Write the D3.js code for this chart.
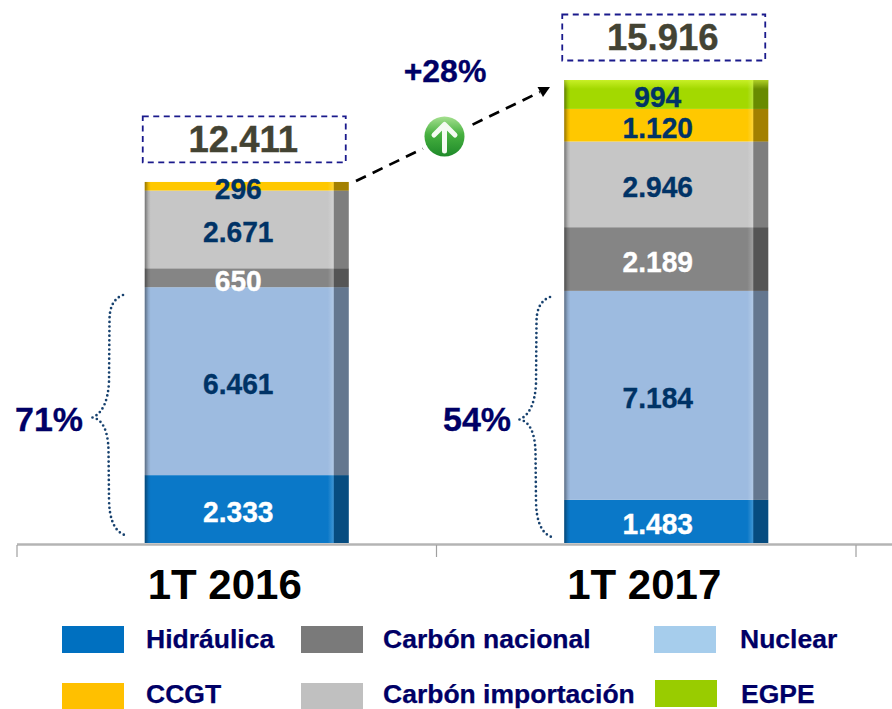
<!DOCTYPE html>
<html><head><meta charset="utf-8">
<script src="https://cdn.jsdelivr.net/npm/d3@7"></script>
<style>html,body{margin:0;padding:0;background:#fff}svg{display:block}text{font-family:"Liberation Sans",Arial,sans-serif;font-weight:bold}</style>
</head><body><svg id="c" width="892" height="709"></svg>
<script>
const categories = ["1T 2016", "1T 2017"];
const hidraulica = [2333, 1483];
const nuclear = [6461, 7184];
const carbonNacional = [650, 2189];
const carbonImportacion = [2671, 2946];
const ccgt = [296, 1120];
const egpe = [0, 994];
const totals = [12411, 15916];
const shares = ["71%", "54%"];
const growth = "+28%";
const seriesNames = ["Hidráulica", "Nuclear", "Carbón nacional", "Carbón importación", "CCGT", "EGPE"];
const seriesValues = [hidraulica, nuclear, carbonNacional, carbonImportacion, ccgt, egpe];
const barColors = ["#0a78c8", "#9dbbe0", "#858585", "#c6c6c6", "#ffc800", "#a3d900"];
const legendColors = ["#0070c0", "#a6cdec", "#7a7a7a", "#c0c0c0", "#ffc000", "#99cc00"];
const labelColors = ["#fff", "#003366", "#fff", "#003366", "#003366", "#003366"];
const legendPlaces = [
  {name:"Hidráulica", bx:62, by:626, tx:146, ty:648},
  {name:"Carbón nacional", bx:301, by:626, tx:383, ty:648},
  {name:"Nuclear", bx:654, by:626, tx:740, ty:648},
  {name:"CCGT", bx:62, by:683, tx:146, ty:703},
  {name:"Carbón importación", bx:301, by:683, tx:383, ty:703},
  {name:"EGPE", bx:655, by:680, tx:741, ty:703}
];

const svg = d3.select("#c");
const fmt = d3.formatLocale({thousands:".", grouping:[3], decimal:",", currency:["",""]}).format(",");
const y = d3.scaleLinear().domain([0, 15916]).range([543, 80]);
const axisX = d3.scaleBand().domain(categories).range([17, 856]);
const barW = 204, sideW = 15, barShift = 20;
const barX = c => axisX(c) + (axisX.step() - barW) / 2 + barShift;

// narrows glyphs so the taller type keeps the reference's width
function squeeze(sel, k) {
  sel.each(function(){
    this.setAttribute("textLength", this.getComputedTextLength() * k);
    this.setAttribute("lengthAdjust", "spacingAndGlyphs");
  });
}

const defs = svg.append("defs");
function grad(id, stops, vertical) {
  const g = defs.append("linearGradient").attr("id", id).attr("x1",0).attr("y1",0)
    .attr("x2", vertical?0:1).attr("y2", vertical?1:0);
  stops.forEach(s => g.append("stop").attr("offset", s[0]).attr("stop-color", s[1]).attr("stop-opacity", s[2]));
}
grad("leftShade", [[0,"#000",.42],[.6,"#000",.1],[1,"#000",0]]);
grad("hiLite", [[0,"#fff",0],[1,"#fff",.22]]);
grad("topLite", [[0,"#e0ff40",.6],[1,"#e0ff40",0]], true);
const rg = defs.append("linearGradient").attr("id","ball").attr("x1",0).attr("y1",0).attr("x2",0).attr("y2",1);
rg.append("stop").attr("offset",0).attr("stop-color","#a5e08f");
rg.append("stop").attr("offset",.45).attr("stop-color","#46b03f");
rg.append("stop").attr("offset",1).attr("stop-color","#1f8a2a");

// axis
svg.append("line").attr("x1",17).attr("x2",892).attr("y1",544.5).attr("y2",544.5).attr("stroke","#b4b4b4").attr("stroke-width",2.5);
const tickXs = [axisX(categories[0]), axisX(categories[1]), axisX(categories[1]) + axisX.step()];
svg.selectAll(".tk").data(tickXs).join("line").attr("x1",d=>d).attr("x2",d=>d)
  .attr("y1",545).attr("y2",557).attr("stroke","#a0a0a0").attr("stroke-width",1.2);
svg.selectAll(".cat").data(categories).join("text").attr("x",c=>axisX(c)+axisX.step()/2-2)
  .attr("y",599).attr("text-anchor","middle").attr("font-size",42).attr("fill","#000").text(c=>c);

// bars
const table = categories.map((c,i)=>{const o={cat:c}; seriesNames.forEach((n,k)=>o[n]=seriesValues[k][i]); return o;});
const stacked = d3.stack().keys(seriesNames)(table);
const flat = [];
stacked.forEach((layer,k)=>layer.forEach((d,i)=>{ if(d[1]>d[0]) flat.push({k,i,cat:d.data.cat,y0:d[0],y1:d[1],v:d[1]-d[0]}); }));
const gBars = svg.append("g");
gBars.selectAll("rect.f").data(flat).join("rect").attr("x",d=>barX(d.cat)).attr("width",barW)
  .attr("y",d=>y(d.y1)).attr("height",d=>y(d.y0)-y(d.y1)).attr("fill",d=>barColors[d.k]);
gBars.selectAll("rect.s").data(flat).join("rect").attr("x",d=>barX(d.cat)+barW-sideW).attr("width",sideW)
  .attr("y",d=>y(d.y1)).attr("height",d=>y(d.y0)-y(d.y1)).attr("fill","#000").attr("fill-opacity",.36);
categories.forEach((c,i)=>{
  const top = y(totals[i]);
  gBars.append("rect").attr("x",barX(c)).attr("y",top).attr("width",6).attr("height",543-top).attr("fill","url(#leftShade)");
  gBars.append("rect").attr("x",barX(c)+barW-sideW-6).attr("y",top).attr("width",6).attr("height",543-top).attr("fill","url(#hiLite)");
});
const egpeTop = flat.find(d=>d.k===5);
gBars.append("rect").attr("x",barX(egpeTop.cat)).attr("y",y(egpeTop.y1)).attr("width",barW).attr("height",9).attr("fill","url(#topLite)");

// labels
svg.selectAll("text.v").data(flat).join("text").attr("x",d=>barX(d.cat)+(barW-sideW)/2-1)
  .attr("y",d=>(y(d.y0)+y(d.y1))/2+2).attr("dy",".36em").attr("text-anchor","middle")
  .attr("font-size",30).attr("fill",d=>labelColors[d.k]).attr("stroke",d=>labelColors[d.k]).attr("stroke-width",.35)
  .text(d=>fmt(d.v)).call(squeeze, 28.2/30);

// totals
categories.forEach((c,i)=>{
  const top = y(totals[i]);
  svg.append("rect").attr("x",barX(c)-2).attr("y",top-65.5).attr("width",203).attr("height",46)
    .attr("fill","none").attr("stroke","#1a1a8c").attr("stroke-width",1.8).attr("stroke-dasharray","6 4.5");
  svg.append("text").attr("x",barX(c)-2+100.5).attr("y",top-30).attr("text-anchor","middle")
    .attr("font-size",37).attr("fill","#434333").attr("stroke","#434333").attr("stroke-width",.4)
    .text(fmt(totals[i])).call(squeeze, 36.5/37);
});

// growth arrow
svg.append("line").attr("x1",356).attr("y1",181).attr("x2",540).attr("y2",92).attr("stroke","#000")
  .attr("stroke-width",2.7).attr("stroke-dasharray","11 7.5");
svg.append("path").attr("d","M550,87 L537.5,87 L543,97 Z").attr("fill","#000");
svg.append("circle").attr("cx",444.5).attr("cy",136.5).attr("r",25).attr("fill","#fff");
svg.append("circle").attr("cx",444.5).attr("cy",136.5).attr("r",20).attr("fill","url(#ball)");
svg.append("path").attr("d","M444.5,151 V125 M434,135 L444.5,124.5 L455,135").attr("fill","none")
  .attr("stroke","#f4fbf2").attr("stroke-width",5).attr("stroke-linecap","round").attr("stroke-linejoin","round");
svg.append("text").attr("x",445).attr("y",82).attr("text-anchor","middle").attr("font-size",32).attr("fill","#000066")
  .attr("stroke","#000066").attr("stroke-width",.3).text(growth);

// braces and shares
const bracePath = "M123,295 C113,299 109.5,308 109.5,320 L109,382 C108,400 103,413 92.5,417.5 C102,419 108,430 108.5,450 L109,498 C109,518 114,531 124.5,535";
[[0,0],[427,2]].forEach((o)=>{
  svg.append("path").attr("d",bracePath).attr("transform",`translate(${o[0]},${o[1]})`).attr("fill","none")
    .attr("stroke","#17416e").attr("stroke-width",2.7).attr("stroke-linecap","round").attr("stroke-dasharray","0 4.6");
});
svg.selectAll("text.sh").data(shares).join("text").attr("x",(d,i)=>[49,477][i]).attr("y",431)
  .attr("text-anchor","middle").attr("font-size",34).attr("fill","#000066")
  .attr("stroke","#000066").attr("stroke-width",.3).text(d=>d);

// legend
const legendW = 62, legendH = 27;
const col = n => legendColors[seriesNames.indexOf(n)];
svg.selectAll("rect.l").data(legendPlaces).join("rect").attr("x",d=>d.bx).attr("y",d=>d.by)
  .attr("width",legendW).attr("height",legendH).attr("fill",d=>col(d.name));
svg.selectAll("text.l").data(legendPlaces).join("text").attr("x",d=>d.tx).attr("y",d=>d.ty)
  .attr("font-size",26.5).attr("fill","#000066").attr("stroke","#000066").attr("stroke-width",.25).text(d=>d.name);
</script></body></html>
